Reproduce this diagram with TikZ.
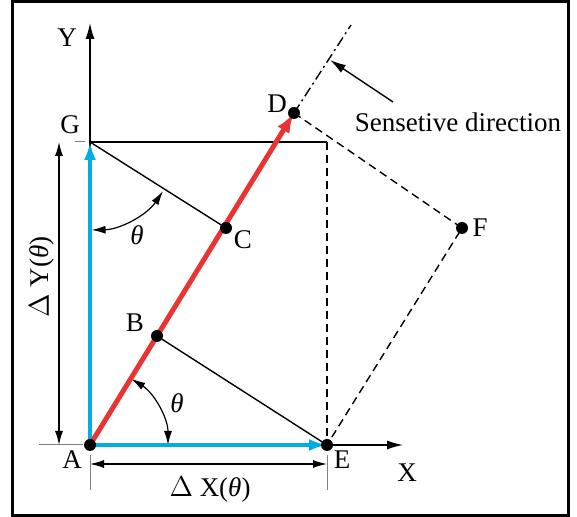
\documentclass[tikz,border=0pt]{standalone}
\usepackage{fontspec}
\setmainfont{Liberation Serif}
\usetikzlibrary{arrows.meta}
\definecolor{vecblue}{RGB}{0,174,230}
\definecolor{vecred}{RGB}{234,52,52}
\tikzset{
  thinline/.style={line width=0.7pt},
  axis/.style={line width=0.7pt,-{Latex[length=8pt,width=4.5pt]}},
  dim/.style={line width=0.6pt,{Latex[length=7pt,width=4pt]}-{Latex[length=7pt,width=4pt]}},
  extline/.style={line width=0.5pt,gray},
  dashline/.style={line width=0.7pt,dash pattern=on 4pt off 2.5pt},
  bluevec/.style={vecblue,line width=2pt,-{Latex[length=9pt,width=6pt]}},
  redvec/.style={vecred,line width=2.5pt,-{Latex[length=10pt,width=7pt]}},
  dot/.style={fill=black}
}
\begin{document}
\begin{tikzpicture}[x=0.5pt,y=0.5pt,font=\fontsize{13.5}{16}\selectfont]
  \useasboundingbox (-90,-72) rectangle (487,445);
  \draw[line width=1.5pt] (-77,-71) rectangle (478,443);
  % points
  \coordinate (A) at (0,0);
  \coordinate (E) at (237,0);
  \coordinate (G) at (0,303);
  \coordinate (H) at (237,303);
  \coordinate (B) at (67,109);
  \coordinate (C) at (136,217);
  \coordinate (D) at (204,332);
  \coordinate (F) at (372,217);
  \coordinate (S) at (261,420);
  \coordinate (Yend) at (0,422);
  \coordinate (Xend) at (313,0);
  % axes
  \draw[axis] (A) -- (Yend);
  \draw[axis] (A) -- (Xend);
  % projections
  \draw[thinline] (G) -- (H);
  \draw[thinline] (G) -- (C);
  \draw[thinline] (B) -- (E);
  \draw[dashline] (H) -- (E);
  \draw[dashline] (D) -- (F) -- (E);
  \draw[thinline,dash pattern=on 5pt off 2pt on 1pt off 2pt] (D) -- (S);
  % dimensions
  \draw[extline] (-15,303) -- (-5,303);
  \draw[extline] (-51,0) -- (-7,0);
  \draw[extline] (0,-10) -- (0,-45);
  \draw[extline] (237,-10) -- (237,-45);
  \draw[dim] (-31,303) -- (-31,0);
  \draw[dim] (0,-19) -- (237,-19);
  \node[rotate=90] (dY) at (-48,168) {$\Delta$\ Y(\textit{θ})};
  \node (dX) at (120,-45) {$\Delta$\ X(\textit{θ})};
  % angles
  \draw[dim] (A) ++(0:78) arc (0:58:78);
  \node (t1) at (87,42) {\textit{θ}};
  \draw[dim] (G) ++(271:88) arc (271:326:88);
  \node (t2) at (47,210) {\textit{θ}};
  % vectors
  \draw[bluevec] (A) -- (G);
  \draw[bluevec] (A) -- (E);
  \draw[redvec] (A) -- (D);
  % dots
  \foreach \p in {A,B,C,D,E,F}
    \fill[dot] (\p) circle (3pt);
  % labels
  \node (lY) at (-23,407) {Y};
  \node (lX) at (317,-28) {X};
  \node (lG) at (-20,320) {G};
  \node (lD) at (187,341) {D};
  \node (lC) at (153,205) {C};
  \node (lB) at (45,122) {B};
  \node (lF) at (390,217) {F};
  \node (lE) at (252,-15) {E};
  \node (lA) at (-18,-15) {A};
  \node (sd) at (368,323) {Sensetive direction};
  \coordinate (Sstart) at (303,343);
  \coordinate (Stip) at (240,385);
  \draw[axis] (Sstart) -- (Stip);
\end{tikzpicture}
\end{document}
